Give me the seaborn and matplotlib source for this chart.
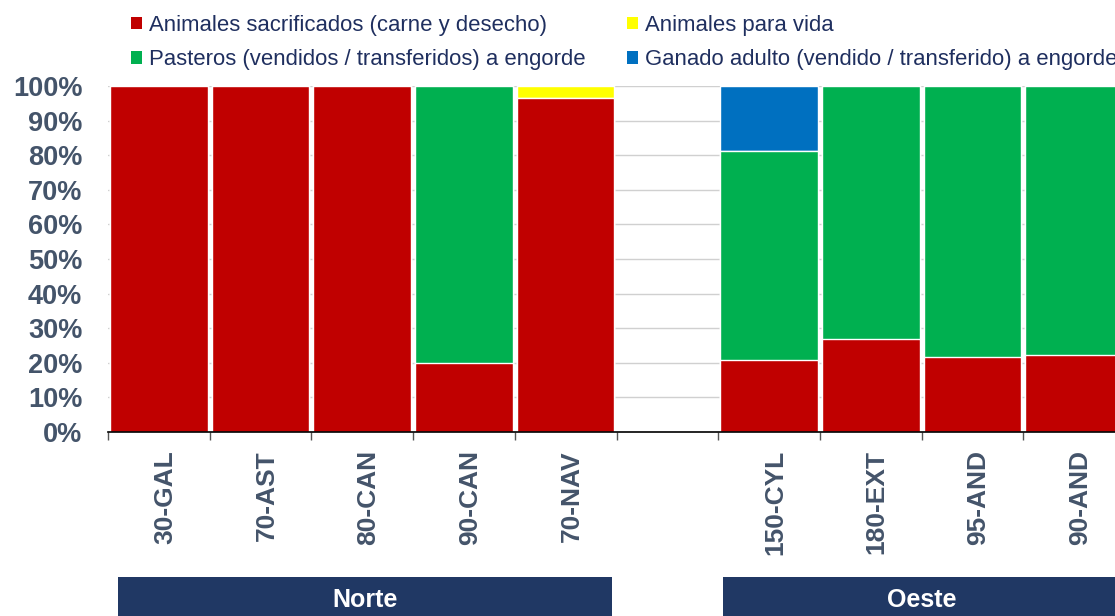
import pandas as pd
import numpy as np
import seaborn as sns
import matplotlib.pyplot as plt
from matplotlib.patches import Patch, Rectangle
from matplotlib.ticker import FuncFormatter
import matplotlib.transforms as mtransforms

# ================================
# Data (percent of animals leaving the farm)
# ================================

categorias = ["30-GAL", "70-AST", "80-CAN", "90-CAN", "70-NAV", " ",
              "150-CYL", "180-EXT", "95-AND", "90-AND"]

sacrificados = [100, 100, 100, 20.0, 96.5, 0, 20.8, 26.9, 21.7, 22.3]
pasteros = [0, 0, 0, 80.0, 0, 0, 60.4, 73.1, 78.3, 77.7]
vida = [0, 0, 0, 0, 3.5, 0, 0, 0, 0, 0]
adulto = [0, 0, 0, 0, 0, 0, 18.8, 0, 0, 0]

series = ["Animales sacrificados (carne y desecho)",
          "Pasteros (vendidos / transferidos) a engorde",
          "Animales para vida",
          "Ganado adulto (vendido / transferido) a engorde"]

colores = ["#C00000", "#00B050", "#FFFF00", "#0070C0"]

regiones = ["Norte", "Oeste"]
region_span = [(-0.4, 4.46), (5.55, 9.46)]

# ================================
# Build table
# ================================

df = pd.DataFrame({
    "Granja": categorias,
    "s0": sacrificados,
    "s1": pasteros,
    "s2": vida,
    "s3": adulto,
})

cum = df[["s0", "s1", "s2", "s3"]].cumsum(axis=1)

# ================================
# Plot
# ================================

sns.set_style("white")
plt.rcParams["font.family"] = ["Liberation Sans", "DejaVu Sans"]

fig = plt.figure(figsize=(11.15, 6.16), dpi=100)
ax = fig.add_axes([108 / 1115, 1 - 432 / 616, 1017 / 1115, 346 / 616])

tick_color = "#44546A"

# draw cumulative layers back to front
for i in [3, 2, 1, 0]:
    sns.barplot(
        x=df["Granja"],
        y=cum["s%d" % i],
        order=categorias,
        color=colores[i],
        saturation=1,
        width=0.96,
        errorbar=None,
        ax=ax,
        zorder=2,
    )

ax.set_ylim(0, 100)
ax.set_xlim(-0.5, len(categorias) - 0.5)
ax.set_yticks(np.arange(0, 101, 10))
ax.yaxis.set_major_formatter(FuncFormatter(lambda v, p: "%d%%" % v))
ax.yaxis.grid(True, color="#D0D0D0", linewidth=1, zorder=0)
ax.set_axisbelow(True)

ax.set_xlabel("")
ax.set_ylabel("")

for s in ["top", "right", "left"]:
    ax.spines[s].set_visible(False)
ax.spines["bottom"].set_color("black")
ax.spines["bottom"].set_linewidth(1.2)

ax.tick_params(axis="y", length=0, pad=18.5, labelsize=19.5, labelcolor=tick_color)
for lab in ax.get_yticklabels():
    lab.set_fontweight("bold")

ax.set_xticks(range(len(categorias)))
ax.set_xticklabels(categorias, rotation=90, fontsize=19, fontweight="bold",
                   color=tick_color)
ax.tick_params(axis="x", which="major", length=0, pad=13)
ax.set_xticks(np.arange(-0.5, len(categorias), 1), minor=True)
ax.tick_params(axis="x", which="minor", length=6, width=1, color="#555555",
               bottom=True)

# labels sit slightly right of the slot centre
shift = mtransforms.ScaledTranslation(6 / 100, 0, fig.dpi_scale_trans)
for lab in ax.get_xticklabels():
    lab.set_transform(lab.get_transform() + shift)

# ================================
# Region boxes below the axis
# ================================

trans = mtransforms.blended_transform_factory(ax.transData, fig.transFigure)
for name, (x0, x1) in zip(regiones, region_span):
    rect = Rectangle((x0, 0), x1 - x0, 1 - 577 / 616, transform=trans,
                     facecolor="#203864", edgecolor="none", clip_on=False,
                     zorder=3)
    ax.add_patch(rect)
    ax.text((x0 + x1) / 2, 1 - 600 / 616, name, transform=trans,
            ha="center", va="center", color="white", fontsize=18,
            fontweight="bold", zorder=4, clip_on=False)

# ================================
# Legend
# ================================

handles = [Patch(facecolor=colores[i], edgecolor="none", label=series[i])
           for i in range(4)]

leg = fig.legend(
    handles=handles,
    ncol=2,
    loc="upper left",
    bbox_to_anchor=(131 / 1115, 1 - 15 / 616),
    frameon=False,
    fontsize=15.9,
    labelcolor="#1F2F5F",
    handlelength=0.5,
    handleheight=0.5,
    handletextpad=0.3,
    columnspacing=1.9,
    labelspacing=0.6,
    borderaxespad=0,
    borderpad=0,
)

plt.savefig("out.png", dpi=100)
